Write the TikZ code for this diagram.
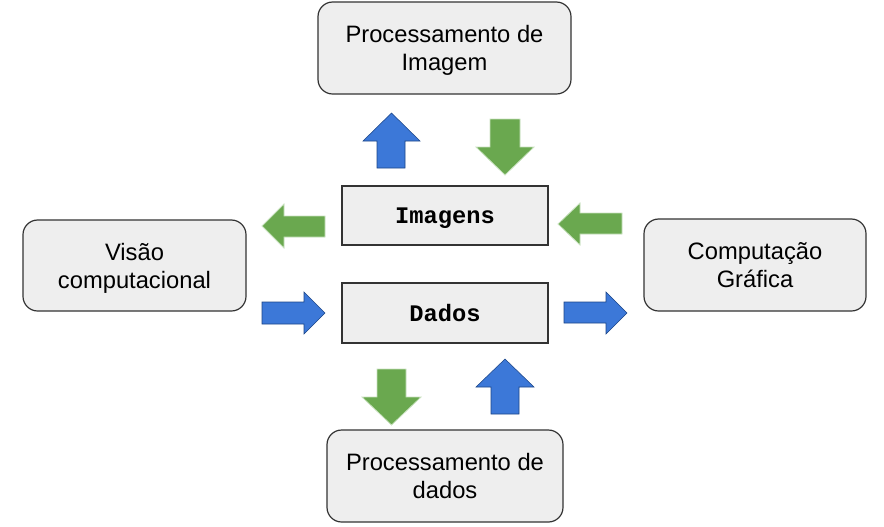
\documentclass[tikz,border=0pt]{standalone}
\usepackage{fontspec}
\setmainfont{Liberation Sans}
\setmonofont{Liberation Mono}
\begin{document}
\begin{tikzpicture}[x=0.75pt,y=0.75pt,yscale=-1,xscale=1,
    roundbox/.style={draw={rgb, 255:red, 51; green, 51; blue, 51 },fill={rgb, 255:red, 238; green, 238; blue, 238 },line width=0.9pt,rounded corners=11pt,align=center,inner sep=0.75pt,text depth=0pt,font=\fontsize{17.8}{21}\selectfont},
    flatbox/.style={draw={rgb, 255:red, 51; green, 51; blue, 51 },fill={rgb, 255:red, 238; green, 238; blue, 238 },line width=0.9pt,inner sep=0.75pt,text depth=0pt,font=\fontsize{17.8}{21}\selectfont\ttfamily\bfseries},
    bluearrow/.style={draw={rgb, 255:red, 28; green, 69; blue, 135 },fill={rgb, 255:red, 60; green, 120; blue, 216 },line width=0.4pt},
    greenarrow/.style={draw={rgb, 255:red, 200; green, 225; blue, 190 },fill={rgb, 255:red, 106; green, 168; blue, 79 },line width=0.6pt}]
        \useasboundingbox (0,0) rectangle (884,526);
        % Boxes
        \node [roundbox,minimum width=189.75pt,minimum height=69pt] (procimg) at (444.5,48) {Processamento de\\Imagem};
        \node [roundbox,minimum width=167.25pt,minimum height=68.25pt] (visao) at (134.5,265.5) {Visão\\computacional};
        \node [roundbox,minimum width=166.5pt,minimum height=69pt] (compgraf) at (755,265) {Computação\\Gráfica};
        \node [roundbox,minimum width=177pt,minimum height=69pt] (procdados) at (445,476) {Processamento de\\dados};
        \node [flatbox,minimum width=154.5pt,minimum height=44.25pt] (imagens) at (445,215.5) {Imagens};
        \node [flatbox,minimum width=154.5pt,minimum height=45pt] (dados) at (445,313) {Dados};
        
        %Shape: Up Arrow (Imagens to Processamento de Imagem)
        \draw [bluearrow] (391.5,113) -- (420,141) -- (405,141) -- (405,168) -- (377,168) -- (377,141) -- (363,141) -- cycle ;
        %Shape: Down Arrow (Processamento de Imagem to Imagens)
        \draw [greenarrow] (490,119) -- (520,119) -- (520,147) -- (534,147) -- (505,175) -- (476,147) -- (490,147) -- cycle ;
        %Shape: Left Arrow (Imagens to Visao computacional)
        \draw [greenarrow] (262,226) -- (284,204) -- (284,216) -- (325,216) -- (325,237) -- (284,237) -- (284,248) -- cycle ;
        %Shape: Right Arrow (Visao computacional to Dados)
        \draw [bluearrow] (262,302) -- (304,302) -- (304,292) -- (325,313) -- (304,334) -- (304,324) -- (262,324) -- cycle ;
        %Shape: Left Arrow (Computacao Grafica to Imagens)
        \draw [greenarrow] (558,224) -- (580,203) -- (580,213) -- (622,213) -- (622,234) -- (580,234) -- (580,245) -- cycle ;
        %Shape: Right Arrow (Dados to Computacao Grafica)
        \draw [bluearrow] (564,302) -- (606,302) -- (606,292) -- (627,313) -- (606,334) -- (606,323) -- (564,323) -- cycle ;
        %Shape: Down Arrow (Dados to Processamento de dados)
        \draw [greenarrow] (377,369) -- (406,369) -- (406,397) -- (421,397) -- (391.5,425) -- (362,397) -- (377,397) -- cycle ;
        %Shape: Up Arrow (Processamento de dados to Dados)
        \draw [bluearrow] (505,359) -- (534,387) -- (519,387) -- (519,414) -- (491,414) -- (491,387) -- (476,387) -- cycle ;
    \end{tikzpicture}
\end{document}
